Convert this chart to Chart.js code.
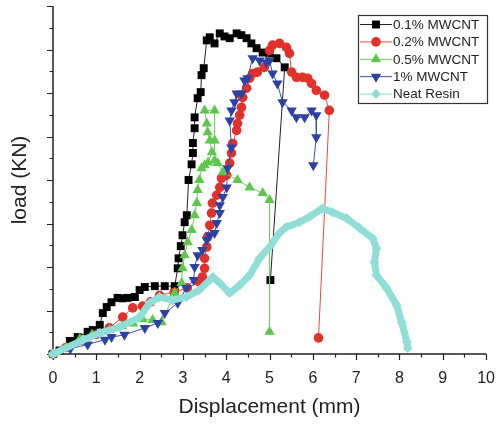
<!DOCTYPE html>
<html>
<head>
<meta charset="utf-8">
<style>
  html, body { margin: 0; padding: 0; background: #fff; }
</style>
<script src="https://cdn.jsdelivr.net/npm/chart.js@4/dist/chart.umd.min.js"></script>
</head>
<body>
<canvas id="loadChart" width="502" height="425"></canvas>
<script>
// Load–displacement curves, one pair of arrays per specimen
const blackX = [0, 0.15, 0.39, 0.57, 0.80, 0.92, 1.08, 1.15, 1.24, 1.35, 1.49, 1.60, 1.72, 1.89, 2.00, 2.12, 2.35, 2.58, 2.81, 2.88,
  2.90, 2.95, 2.99, 3.04, 3.09, 3.13, 3.20, 3.23, 3.23, 3.27, 3.27, 3.34, 3.41, 3.43, 3.48, 3.55, 3.62, 3.73, 3.85, 3.96,
  4.08, 4.24, 4.35, 4.47, 4.58, 4.70, 4.84, 5.00, 5.16, 5.35, 5.02];
const blackY = [0, 0.08, 0.30, 0.39, 0.51, 0.55, 0.67, 0.94, 1.08, 1.19, 1.29, 1.28, 1.29, 1.31, 1.47, 1.54, 1.56, 1.56, 1.56, 1.97,
  2.20, 2.48, 2.73, 3.03, 3.19, 4.00, 4.36, 4.62, 4.85, 5.19, 5.44, 5.88, 6.02, 6.41, 6.57, 7.21, 7.28, 7.14, 7.37, 7.30,
  7.26, 7.37, 7.33, 7.26, 7.14, 7.03, 6.93, 6.91, 6.80, 6.59, 1.70];

const redX = [0, 0.3, 0.7, 1.0, 1.3, 1.61, 1.84, 2.07, 2.25, 2.46, 2.8, 3.1, 3.38, 3.45, 3.50, 3.50, 3.55, 3.57, 3.62, 3.66,
  3.68, 3.78, 3.85, 3.89, 4.01, 4.08, 4.12, 4.15, 4.24, 4.26, 4.31, 4.35, 4.38, 4.47, 4.54, 4.61, 4.72, 4.88, 5.00, 5.07,
  5.23, 5.39, 5.46, 5.51, 5.62, 5.76, 5.88, 5.97, 6.08, 6.27, 6.38, 6.13];
const redY = [0, 0.15, 0.30, 0.45, 0.6, 0.85, 1.06, 1.10, 1.20, 1.35, 1.42, 1.52, 1.65, 1.77, 1.97, 2.20, 2.46, 2.69, 2.96, 3.24,
  3.47, 3.65, 3.83, 4.04, 4.11, 4.39, 4.62, 4.84, 5.14, 5.30, 5.49, 5.67, 5.90, 6.11, 6.34, 6.45, 6.48, 6.59, 6.98, 7.10,
  7.14, 7.05, 6.91, 6.48, 6.36, 6.36, 6.34, 6.22, 6.06, 5.95, 5.60, 0.37];

const greenX = [0, 0.3, 0.62, 0.9, 1.31, 1.6, 1.85, 2.07, 2.3, 2.51, 2.81, 2.97, 2.99, 3.04, 3.11, 3.20, 3.27, 3.32, 3.34, 3.38,
  3.43, 3.50, 3.58, 3.67, 3.62, 3.57, 3.55, 3.50, 3.73, 3.73, 3.73, 3.80, 3.92, 4.26, 4.54, 4.84, 5.00, 5.00];
const greenY = [0, 0.15, 0.35, 0.45, 0.55, 0.64, 0.70, 0.80, 0.78, 0.73, 1.40, 1.63, 1.97, 2.27, 2.57, 2.85, 3.19, 3.47, 3.77, 4.00,
  4.27, 4.34, 4.40, 4.64, 4.91, 5.10, 5.30, 5.60, 5.60, 4.91, 4.45, 4.39, 4.18, 4.00, 3.83, 3.70, 3.54, 0.51];

const blueX = [0, 0.4, 0.8, 1.2, 1.35, 1.65, 2.12, 2.42, 2.58, 2.88, 3.08, 3.25, 3.27, 3.34, 3.45, 3.55, 3.62, 3.73, 3.78, 3.85,
  3.85, 3.92, 4.01, 4.03, 4.12, 4.08, 4.12, 4.19, 4.24, 4.35, 4.42, 4.49, 4.61, 4.77, 4.93, 5.00, 5.07, 5.18, 5.30, 5.51,
  5.62, 5.81, 5.97, 6.08, 6.08, 6.01];
const blueY = [0, 0.12, 0.22, 0.33, 0.39, 0.44, 0.60, 0.71, 0.94, 1.17, 1.52, 1.70, 2.00, 2.27, 2.39, 2.62, 2.73, 2.78, 3.01, 3.24,
  3.42, 3.61, 3.83, 4.27, 4.75, 5.37, 5.60, 5.79, 5.99, 5.99, 6.29, 6.34, 6.80, 6.75, 6.70, 6.75, 6.45, 6.22, 5.79, 5.60,
  5.44, 5.44, 5.60, 5.49, 4.98, 4.34];

const resinX = [0, 0.69, 1.08, 1.54, 2.00, 2.23, 2.46, 2.76, 3.08, 3.38, 3.69, 3.85, 4.08, 4.31, 4.54, 4.77, 5.00, 5.23, 5.39, 5.69,
  5.92, 6.22, 6.45, 6.78, 7.08, 7.38, 7.47, 7.42, 7.47, 7.70, 7.93, 8.05, 8.17, 8.19];
const resinY = [0, 0.32, 0.48, 0.62, 0.85, 1.17, 1.31, 1.24, 1.31, 1.47, 1.77, 1.63, 1.40, 1.58, 1.81, 2.20, 2.46, 2.78, 2.92, 3.03,
  3.15, 3.35, 3.26, 3.12, 2.89, 2.66, 2.43, 2.11, 1.81, 1.52, 1.13, 0.73, 0.28, 0.14];

const seriesNames = ['0.1% MWCNT', '0.2% MWCNT', '0.5% MWCNT', '1% MWCNT', 'Neat Resin'];
const xTicks = [0, 1, 2, 3, 4, 5, 6, 7, 8, 9, 10];

const pts = (xs, ys) => xs.map((x, i) => ({ x: x, y: ys[i] }));
const FONT = '"Liberation Sans", Arial, sans-serif';

// axis lines with long major and short minor ticks
const axisTicks = {
  id: 'axisTicks',
  beforeDatasetsDraw(chart) {
    const { ctx, chartArea: a, scales: { x, y } } = chart;
    ctx.save();
    ctx.strokeStyle = '#222';
    ctx.lineWidth = 1.5;
    ctx.beginPath();
    ctx.moveTo(a.left, a.top);
    ctx.lineTo(a.left, a.bottom);
    ctx.lineTo(a.right, a.bottom);
    ctx.stroke();
    ctx.lineWidth = 1.2;
    ctx.beginPath();
    for (let i = 0; i <= 20; i++) {
      const px = Math.round(x.getPixelForValue(i / 2)) + 0.5;
      const len = i % 2 === 0 ? 6 : 3.5;
      ctx.moveTo(px, a.bottom);
      ctx.lineTo(px, a.bottom + len);
    }
    for (let i = 0; i <= 16; i++) {
      const py = Math.round(y.getPixelForValue(i / 2)) + 0.5;
      const len = i % 2 === 0 ? 6 : 3.5;
      ctx.moveTo(a.left, py);
      ctx.lineTo(a.left - len, py);
    }
    ctx.stroke();
    ctx.restore();
  }
};

// boxed legend in the upper right corner
const boxLegend = {
  id: 'boxLegend',
  afterDraw(chart) {
    const ctx = chart.ctx;
    const left = 358, top = 15, w = 129, h = 88, row = 17.4;
    ctx.save();
    ctx.fillStyle = '#fff';
    ctx.fillRect(left, top, w, h);
    ctx.strokeStyle = '#333';
    ctx.lineWidth = 1.2;
    ctx.strokeRect(left + 0.5, top + 0.5, w, h);
    chart.data.datasets.forEach((ds, i) => {
      const cy = top + 9.5 + i * row;
      ctx.strokeStyle = i === 4 ? ds.pointBackgroundColor : ds.borderColor;
      ctx.lineWidth = 1;
      ctx.beginPath();
      ctx.moveTo(left + 2, cy);
      ctx.lineTo(left + 34, cy);
      ctx.stroke();
      ctx.fillStyle = ds.pointBackgroundColor;
      ctx.strokeStyle = ds.pointBackgroundColor;
      Chart.helpers.drawPoint(ctx, {
        pointStyle: ds.pointStyle,
        rotation: ds.pointRotation || 0,
        radius: ds.legendRadius,
        borderWidth: 0
      }, left + 18, cy);
      ctx.fillStyle = '#222';
      ctx.font = '13.5px ' + FONT;
      ctx.textBaseline = 'middle';
      ctx.fillText(ds.label, left + 35, cy + 0.5);
    });
    ctx.restore();
  }
};

new Chart(document.getElementById('loadChart'), {
  type: 'line',
  data: {
    datasets: [
      {
        label: seriesNames[0], data: pts(blackX, blackY), order: 5,
        borderColor: '#222', borderWidth: 1, pointBackgroundColor: '#000',
        pointStyle: 'rect', pointRadius: 5.6, pointBorderWidth: 0, legendRadius: 5.6
      },
      {
        label: seriesNames[1], data: pts(redX, redY), order: 4,
        borderColor: '#e8473f', borderWidth: 1, pointBackgroundColor: '#e2302a',
        pointStyle: 'circle', pointRadius: 4.8, pointBorderWidth: 0, legendRadius: 4.8
      },
      {
        label: seriesNames[2], data: pts(greenX, greenY), order: 3,
        borderColor: '#6fce5d', borderWidth: 1, pointBackgroundColor: '#5ec84c',
        pointStyle: 'triangle', pointRadius: 6, pointBorderWidth: 0, legendRadius: 6
      },
      {
        label: seriesNames[3], data: pts(blueX, blueY), order: 2,
        borderColor: '#3a50ad', borderWidth: 1, pointBackgroundColor: '#2c42a2',
        pointStyle: 'triangle', pointRotation: 180, pointRadius: 6, pointBorderWidth: 0, legendRadius: 6
      },
      {
        label: seriesNames[4], data: pts(resinX, resinY), order: 1,
        borderColor: '#8fded7', borderWidth: 7, borderJoinStyle: 'round', borderCapStyle: 'round',
        pointBackgroundColor: '#8fded7',
        pointStyle: 'rectRot', pointRadius: 5, pointBorderWidth: 0, legendRadius: 5
      }
    ]
  },
  options: {
    responsive: false,
    animation: false,
    clip: false,
    elements: { line: { tension: 0 } },
    layout: { padding: { top: 6, right: 15, left: 0, bottom: 0 } },
    scales: {
      x: {
        type: 'linear', min: 0, max: 10,
        afterFit: (s) => { s.height = 71; },
        afterBuildTicks: (s) => { s.ticks = xTicks.map(v => ({ value: v })); },
        grid: { display: false },
        border: { display: false },
        ticks: { padding: 7, color: '#222', font: { family: FONT, size: 16 } },
        title: {
          display: true, text: 'Displacement (mm)', color: '#222',
          font: { family: FONT, size: 21 }, padding: { bottom: 5 }
        }
      },
      y: {
        type: 'linear', min: 0, max: 8,
        afterFit: (s) => { s.width = 53; },
        grid: { display: false },
        border: { display: false },
        ticks: { display: false },
        title: {
          display: true, text: 'load (KN)', color: '#222',
          font: { family: FONT, size: 21 }, padding: { top: 8 }
        }
      }
    },
    plugins: {
      legend: { display: false },
      tooltip: { enabled: false }
    }
  },
  plugins: [axisTicks, boxLegend]
});
</script>
</body>
</html>
